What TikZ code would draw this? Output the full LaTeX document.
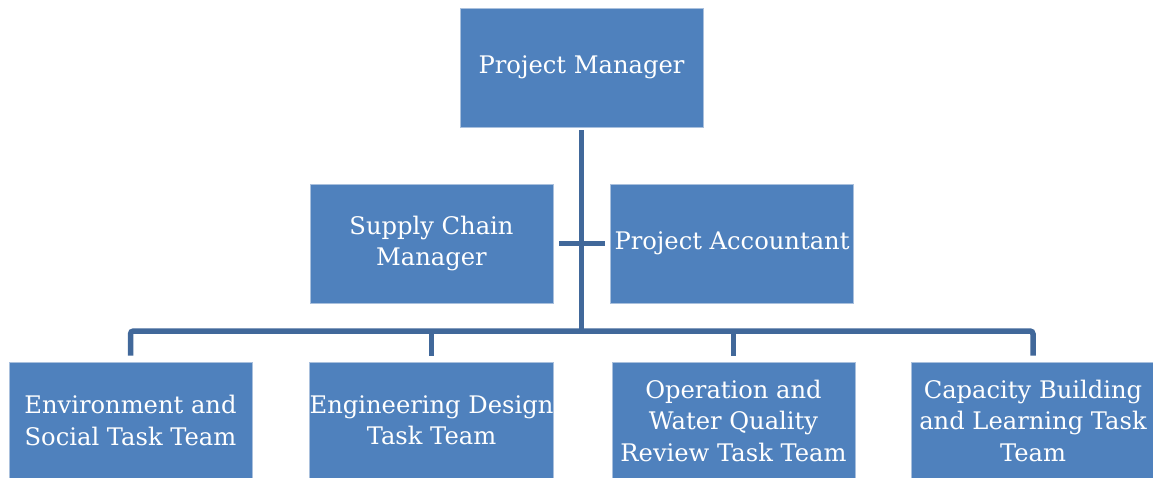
\documentclass[tikz,border=0pt]{standalone}
\usepackage{fontspec}
\setmainfont{DejaVu Serif}
\definecolor{boxfill}{HTML}{4F81BD}
\definecolor{boxedge}{HTML}{A9C0DD}
\definecolor{linecol}{HTML}{41689A}
\begin{document}
\begin{tikzpicture}[x=1pt,y=-1pt,
  box/.style={draw=boxedge,line width=0.8pt,fill=boxfill,text=white,inner sep=0pt,
    minimum width=243pt,minimum height=119pt,align=center,
    font=\fontsize{24.2}{31.5}\selectfont},
  conn/.style={draw=linecol,line width=5.5pt}]
\useasboundingbox[fill=white] (0,0) rectangle (1153,477);
\node[box] (pm) at (581.5,67.5) {Project Manager};
\node[box] (scm) at (431.5,243.5) {Supply Chain\\Manager};
\node[box] (pa) at (732,243.5) {Project Accountant};
\node[box,minimum height=117pt] (e1) at (130.5,420.5) {Environment and\\Social Task Team};
\node[box,minimum height=117pt] (e2) at (431.5,420.5) {Engineering Design\\Task Team};
\node[box,minimum height=117pt] (e3) at (733.5,420.5) {Operation and\\Water Quality\\Review Task Team};
\node[box,minimum height=117pt] (e4) at (1033,420.5) {Capacity Building\\and Learning Task\\Team};
\coordinate (bus) at (581.5,331);
\draw[conn,shorten <=3pt] (pm.south) -- (bus);
\draw[conn,shorten <=6pt,shorten >=5pt] (scm.east) -- (pa.west);
\draw[conn,rounded corners=3pt,shorten <=6pt,shorten >=6pt] (e1.north) |- (bus) -| (e4.north);
\draw[conn,shorten >=6pt] (bus -| e2.north) -- (e2.north);
\draw[conn,shorten >=6pt] (bus -| e3.north) -- (e3.north);
\end{tikzpicture}
\end{document}
